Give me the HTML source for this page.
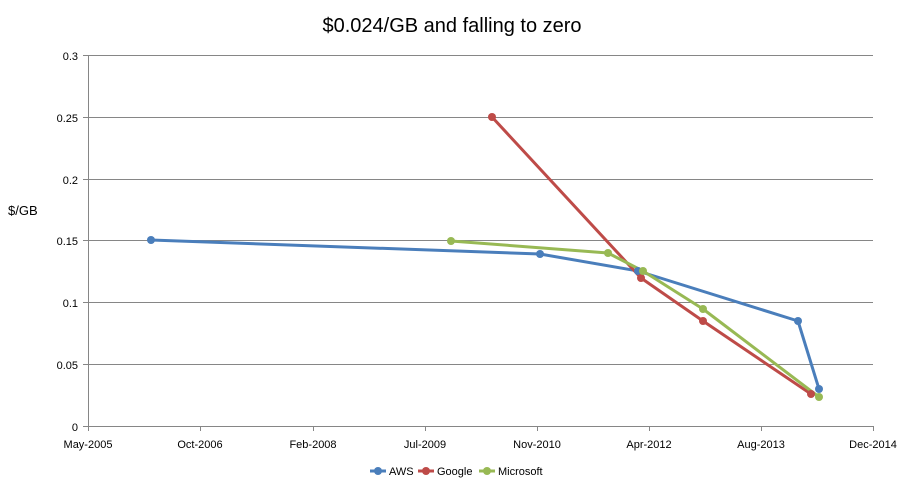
<html><body style="margin:0;background:#fff">
<svg width="912" height="492" xmlns="http://www.w3.org/2000/svg" font-family="Liberation Sans, sans-serif">
<rect width="912" height="492" fill="#fff"/>
<text x="452" y="32" font-size="20" text-anchor="middle" fill="#000">$0.024/GB and falling to zero</text>
<g stroke="#868686" stroke-width="1">
<line x1="88" y1="55.5" x2="873" y2="55.5"/>
<line x1="88" y1="117.5" x2="873" y2="117.5"/>
<line x1="88" y1="179.5" x2="873" y2="179.5"/>
<line x1="88" y1="240.5" x2="873" y2="240.5"/>
<line x1="88" y1="302.5" x2="873" y2="302.5"/>
<line x1="88" y1="364.5" x2="873" y2="364.5"/>
<line x1="88" y1="426.5" x2="873" y2="426.5"/>
<line x1="88.5" y1="55" x2="88.5" y2="426"/>
<g>
<line x1="88.5" y1="426" x2="88.5" y2="431"/><line x1="200.5" y1="426" x2="200.5" y2="431"/><line x1="313.5" y1="426" x2="313.5" y2="431"/><line x1="425.5" y1="426" x2="425.5" y2="431"/><line x1="537.5" y1="426" x2="537.5" y2="431"/><line x1="649.5" y1="426" x2="649.5" y2="431"/><line x1="761.5" y1="426" x2="761.5" y2="431"/><line x1="873.5" y1="426" x2="873.5" y2="431"/>
<line x1="83" y1="55.5" x2="88" y2="55.5"/><line x1="83" y1="117.5" x2="88" y2="117.5"/><line x1="83" y1="179.5" x2="88" y2="179.5"/><line x1="83" y1="240.5" x2="88" y2="240.5"/><line x1="83" y1="302.5" x2="88" y2="302.5"/><line x1="83" y1="364.5" x2="88" y2="364.5"/><line x1="83" y1="426.5" x2="88" y2="426.5"/>
</g></g>
<g font-size="11" fill="#000" text-anchor="end">
<text x="78" y="60">0.3</text><text x="78" y="122">0.25</text><text x="78" y="184">0.2</text><text x="78" y="245">0.15</text><text x="78" y="307">0.1</text><text x="78" y="369">0.05</text><text x="78" y="431">0</text>
</g>
<g font-size="11" fill="#000" text-anchor="middle">
<text x="88" y="448">May-2005</text><text x="200" y="448">Oct-2006</text><text x="313" y="448">Feb-2008</text><text x="425" y="448">Jul-2009</text><text x="537" y="448">Nov-2010</text><text x="649" y="448">Apr-2012</text><text x="761" y="448">Aug-2013</text><text x="873" y="448">Dec-2014</text>
</g>
<text x="8" y="215" font-size="13" fill="#000">$/GB</text>
<g fill="none" stroke-width="3" stroke-linejoin="round">
<polyline stroke="#4a7ebb" points="151,240 540,254 638,271 798,321 819,389"/>
<polyline stroke="#be4b48" points="492,117 641,278 703,321 811,394"/>
<polyline stroke="#98b954" points="451,241 608,253 643,271 703,309 819,397"/>
</g>
<g fill="#4a7ebb"><circle cx="151" cy="240" r="4"/><circle cx="540" cy="254" r="4"/><circle cx="638" cy="271" r="4"/><circle cx="798" cy="321" r="4"/><circle cx="819" cy="389" r="4"/></g>
<g fill="#be4b48"><circle cx="492" cy="117" r="4"/><circle cx="641" cy="278" r="4"/><circle cx="703" cy="321" r="4"/><circle cx="811" cy="394" r="4"/></g>
<g fill="#98b954"><circle cx="451" cy="241" r="4"/><circle cx="608" cy="253" r="4"/><circle cx="643" cy="271" r="4"/><circle cx="703" cy="309" r="4"/><circle cx="819" cy="397" r="4"/></g>
<g font-size="11" fill="#000">
<line x1="370" y1="471" x2="386" y2="471" stroke="#4a7ebb" stroke-width="3"/><circle cx="378" cy="471" r="4" fill="#4a7ebb"/><text x="389" y="475">AWS</text>
<line x1="418" y1="471" x2="434" y2="471" stroke="#be4b48" stroke-width="3"/><circle cx="426" cy="471" r="4" fill="#be4b48"/><text x="437" y="475">Google</text>
<line x1="479" y1="471" x2="495" y2="471" stroke="#98b954" stroke-width="3"/><circle cx="487" cy="471" r="4" fill="#98b954"/><text x="498" y="475">Microsoft</text>
</g>
</svg>
</body></html>
